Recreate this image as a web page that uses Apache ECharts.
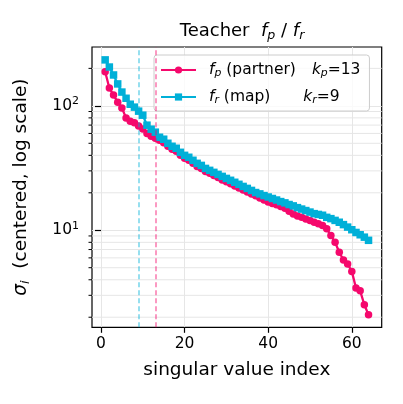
<!DOCTYPE html>
<html>
<head>
<meta charset="utf-8">
<script src="https://cdn.jsdelivr.net/npm/echarts@6/dist/echarts.min.js"></script>
<style>
  html, body { margin: 0; padding: 0; background: #fff; }
  #chart { width: 403px; height: 404px; }
</style>
</head>
<body>
<div id="chart"></div>
<script>
// singular value index
const indices = [1,2,3,4,5,6,7,8,9,10,11,12,13,14,15,16,17,18,19,20,21,22,23,24,25,26,27,28,29,30,31,32,
  33,34,35,36,37,38,39,40,41,42,43,44,45,46,47,48,49,50,51,52,53,54,55,56,57,58,59,60,61,62,63,64];
// f_p (partner) singular values
const partnerVals = [188,139,122,107,96,80,75,73,69,65,60,57,55,53,50.5,47.3,44.8,43.1,40.0,37.9,36.5,34.5,
  32.6,31.4,29.7,28.7,27.6,26.6,25.4,24.5,23.6,22.7,21.9,21.1,20.3,19.6,18.9,18.2,17.5,16.9,16.4,16.0,15.5,
  15.0,14.2,13.5,13.0,12.7,12.3,12.0,11.6,11.3,10.9,10.3,9.06,8.0,6.65,5.77,5.36,4.67,3.43,3.26,2.52,2.09];
// f_r (map) singular values
const mapVals = [234,205,177,150,129,115,103,97.6,90.6,84.1,69.9,64.9,61.4,55.9,53.9,50.0,47.3,45.6,42.3,40.0,
  38.6,36.5,34.5,33.2,31.4,30.3,29.2,28.1,27.1,26.1,25.2,24.3,23.4,22.5,21.7,20.9,20.1,19.6,19.0,18.5,
  18.0,17.5,17.0,16.6,16.1,15.7,15.2,14.8,14.4,14.0,13.6,13.4,13.2,12.7,12.4,12.0,11.6,11.1,10.6,10.1,
  9.6,9.2,8.8,8.3];
const kP = 13;
const kR = 9;
const xTicks = [0, 20, 40, 60];
const yTicks = [10, 100];
const yMinorTicks = [2,3,4,5,6,7,8,9,20,30,40,50,60,70,80,90,200];

const PINK = '#f5086c';
const CYAN = '#00b0d8';
const FONT = 'DejaVu Sans';
const GRID = '#e6e6e6';

const chart = echarts.init(document.getElementById('chart'));

const textRich = (size, lh) => ({
  n: { fontFamily: FONT, fontSize: size, fontWeight: 'normal', color: '#000', lineHeight: lh },
  i: { fontFamily: FONT, fontSize: size, fontWeight: 'normal', color: '#000', fontStyle: 'italic', lineHeight: lh },
  s: { fontFamily: FONT, fontSize: size * 0.7, fontWeight: 'normal', color: '#000', fontStyle: 'italic', lineHeight: 8, verticalAlign: 'bottom' },
  g: { width: 8 },
  a: { width: 16 },
  b: { width: 33 }
});

const legendLabels = {
  'f_p (partner)': '{g| }{i|f}{s|p}{n| (partner)}{a| }{i|k}{s|p}{n|=' + kP + '}',
  'f_r (map)': '{g| }{i|f}{s|r}{n| (map)}{b| }{i|k}{s|r}{n|=' + kR + '}'
};

const option = {
  animation: false,
  title: {
    text: '{n|Teacher  }{i|f}{s|p}{n| / }{i|f}{s|r}',
    left: 237,
    top: 15,
    textAlign: 'center',
    textStyle: { fontWeight: 'normal', rich: textRich(18, 22) }
  },
  grid: {
    left: 92, right: 21.3, top: 47, bottom: 76.7,
    show: true, borderColor: '#000', borderWidth: 1.2
  },
  legend: {
    data: ['f_p (partner)', 'f_r (map)'],
    orient: 'vertical',
    left: 154, top: 55,
    padding: [7, 9, 5, 6],
    itemGap: 10,
    itemWidth: 35,
    itemHeight: 9,
    selectedMode: false,
    backgroundColor: 'rgba(255,255,255,0.8)',
    borderColor: '#cccccc',
    borderWidth: 1,
    borderRadius: 3,
    formatter: name => legendLabels[name],
    textStyle: { rich: textRich(15.5, 18) }
  },
  xAxis: {
    type: 'value',
    min: -2.15, max: 67.15,
    minInterval: 20, maxInterval: 20,
    name: 'singular value index',
    nameLocation: 'middle',
    nameGap: 33,
    nameTextStyle: { fontFamily: FONT, fontSize: 18.5, color: '#000' },
    axisLine: { show: false },
    axisTick: { show: true, length: 5.5, lineStyle: { color: '#000', width: 1.2 }, customValues: xTicks },
    axisLabel: {
      fontFamily: FONT, fontSize: 15.5, color: '#000', margin: 9,
      customValues: xTicks,
      formatter: v => (xTicks.indexOf(v) >= 0 ? String(v) : '')
    },
    splitLine: { show: true, lineStyle: { color: GRID, width: 1 } }
  },
  yAxis: {
    type: 'log',
    logBase: 10,
    min: 1.66, max: 297,
    name: '{i|σ}{s|i}{n|  (centered, log scale)}',
    nameLocation: 'middle',
    nameRotate: 90,
    nameGap: 60,
    nameTextStyle: { rich: textRich(18.5, 22) },
    axisLine: { show: false },
    axisTick: { show: true, length: 6, lineStyle: { color: '#000', width: 1.2 }, customValues: yTicks },
    axisLabel: {
      margin: 13,
      customValues: yTicks,
      formatter: v => {
        const e = Math.log10(v);
        if (Math.abs(e - Math.round(e)) > 1e-6) return '';
        return '{b|10}{p|' + Math.round(e) + '}';
      },
      rich: {
        b: { fontFamily: FONT, fontSize: 15.5, color: '#000', lineHeight: 20 },
        p: { fontFamily: FONT, fontSize: 11, color: '#000', lineHeight: 9, verticalAlign: 'top' }
      }
    },
    splitLine: { show: true, lineStyle: { color: GRID, width: 1 } }
  },
  series: [
    {
      type: 'custom',
      silent: true,
      clip: false,
      z: 1,
      data: yMinorTicks.map(v => [0, v]),
      renderItem: (params, api) => {
        const y = api.coord([0, api.value(1)])[1];
        const cs = params.coordSys;
        return {
          type: 'group',
          children: [
            { type: 'line', shape: { x1: cs.x, y1: y, x2: cs.x + cs.width, y2: y }, style: { stroke: GRID, lineWidth: 1 } },
            { type: 'line', shape: { x1: cs.x - 3.5, y1: y, x2: cs.x, y2: y }, style: { stroke: '#000', lineWidth: 1 } }
          ]
        };
      }
    },
    {
      name: 'f_p (partner)',
      type: 'line',
      data: indices.map((x, k) => [x, partnerVals[k]]),
      symbol: 'circle',
      symbolSize: 7.5,
      lineStyle: { color: PINK, width: 2.3 },
      itemStyle: { color: PINK },
      z: 3,
      markLine: {
        silent: true,
        symbol: 'none',
        label: { show: false },
        lineStyle: { color: PINK, type: [5, 3], width: 1.5, opacity: 0.55 },
        data: [{ xAxis: kP }]
      }
    },
    {
      name: 'f_r (map)',
      type: 'line',
      data: indices.map((x, k) => [x, mapVals[k]]),
      symbol: 'rect',
      symbolSize: 7.5,
      lineStyle: { color: CYAN, width: 2.3 },
      itemStyle: { color: CYAN },
      z: 4,
      markLine: {
        silent: true,
        symbol: 'none',
        label: { show: false },
        lineStyle: { color: CYAN, type: [5, 3], width: 1.5, opacity: 0.55 },
        data: [{ xAxis: kR }]
      }
    }
  ]
};

chart.setOption(option);
</script>
</body>
</html>
